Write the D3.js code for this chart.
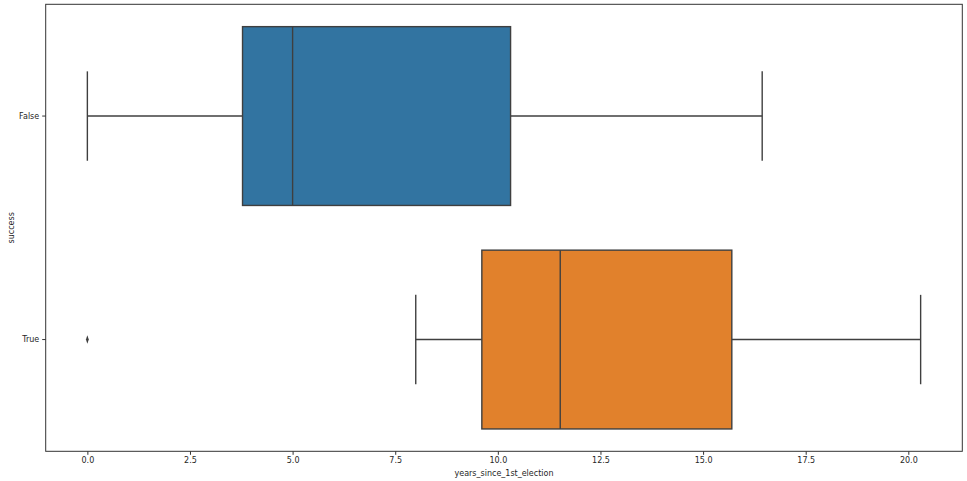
<!DOCTYPE html>
<html><head><meta charset="utf-8">
<script src="https://cdn.jsdelivr.net/npm/d3@7"></script>
<style>body{margin:0;background:#fff}svg{display:block}text{font-family:"DejaVu Sans",sans-serif;fill:#262626}</style>
</head><body>
<svg id="c" width="967" height="481"></svg>
<script>
const categories = ["False", "True"];
const whiskerLow = [0, 8.0];
const q1 = [3.78, 9.61];
const median = [5.0, 11.52];
const q3 = [10.31, 15.70];
const whiskerHigh = [16.44, 20.3];
const outliers = [[], [0]];
const colors = ["#3274a1", "#e1812c"];
const xTicks = [0, 2.5, 5, 7.5, 10, 12.5, 15, 17.5, 20];
const xLabel = "years_since_1st_election";
const yLabel = "success";

const svg = d3.select("#c");
const m = {l: 45.7, r: 962.3, t: 4.3, b: 451.3};
const x = d3.scaleLinear().domain([-1.015, 21.315]).range([m.l, m.r]);
const y = d3.scaleBand().domain(categories).range([m.t, m.b]).paddingInner(0).paddingOuter(0);
const bw = y.bandwidth() * 0.8;
const line = "#3f3f3f", lw = 1.4;

categories.forEach((c, i) => {
  const cy = y(c) + y.bandwidth() / 2;
  const g = svg.append("g");
  // whiskers
  g.append("line").attr("x1", x(whiskerLow[i])).attr("x2", x(q1[i])).attr("y1", cy).attr("y2", cy).attr("stroke", line).attr("stroke-width", lw);
  g.append("line").attr("x1", x(q3[i])).attr("x2", x(whiskerHigh[i])).attr("y1", cy).attr("y2", cy).attr("stroke", line).attr("stroke-width", lw);
  [whiskerLow[i], whiskerHigh[i]].forEach(v => {
    g.append("line").attr("x1", x(v)).attr("x2", x(v)).attr("y1", cy - bw / 4).attr("y2", cy + bw / 4).attr("stroke", line).attr("stroke-width", lw);
  });
  g.append("rect").attr("x", x(q1[i])).attr("y", cy - bw / 2).attr("width", x(q3[i]) - x(q1[i])).attr("height", bw)
    .attr("fill", colors[i]).attr("stroke", line).attr("stroke-width", lw);
  g.append("line").attr("x1", x(median[i])).attr("x2", x(median[i])).attr("y1", cy - bw / 2).attr("y2", cy + bw / 2).attr("stroke", line).attr("stroke-width", lw);
  outliers[i].forEach(v => {
    g.append("path").attr("d", d3.symbol(d3.symbolDiamond, 14)()).attr("transform", `translate(${x(v)},${cy}) scale(0.7,1.2)`).attr("fill", line);
  });
});

// frame
svg.append("rect").attr("x", m.l).attr("y", m.t).attr("width", m.r - m.l).attr("height", m.b - m.t)
  .attr("fill", "none").attr("stroke", "#333").attr("stroke-width", 1);

const xa = svg.append("g").attr("transform", `translate(0,${m.b})`)
  .call(d3.axisBottom(x).tickValues(xTicks).tickFormat(d3.format(".1f")).tickSize(3.5).tickPadding(3));
xa.select(".domain").remove();
xa.selectAll("line").attr("stroke", "#333");
xa.selectAll("text").style("font-size", "8px").attr("fill", "#262626");

const ya = svg.append("g").attr("transform", `translate(${m.l},0)`)
  .call(d3.axisLeft(y).tickSize(3.5).tickPadding(3));
ya.select(".domain").remove();
ya.selectAll("line").attr("stroke", "#333");
ya.selectAll("text").style("font-size", "8px").attr("fill", "#262626");

svg.append("text").attr("x", (m.l + m.r) / 2).attr("y", 476).attr("text-anchor", "middle").style("font-size", "8px").text(xLabel);
svg.append("text").attr("transform", `translate(14,${(m.t + m.b) / 2}) rotate(-90)`).attr("text-anchor", "middle").style("font-size", "8px").text(yLabel);
</script>
</body></html>
